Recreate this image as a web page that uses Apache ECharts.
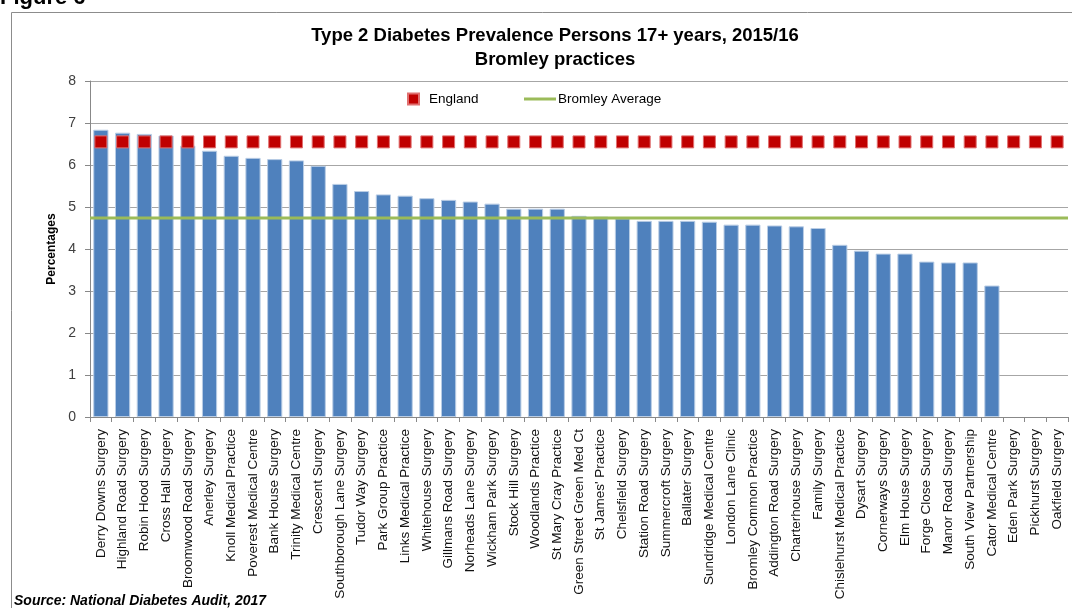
<!DOCTYPE html>
<html>
<head>
<meta charset="utf-8">
<script src="https://cdn.jsdelivr.net/npm/echarts@6/dist/echarts.min.js"></script>
<style>
html,body{margin:0;padding:0;background:#fff;}
#chart{width:1072px;height:608px;}
</style>
</head>
<body>
<div id="chart"></div>
<script>
const categories = [
  "Derry Downs Surgery","Highland Road Surgery","Robin Hood Surgery","Cross Hall Surgery",
  "Broomwood Road Surgery","Anerley Surgery","Knoll Medical Practice","Poverest Medical Centre",
  "Bank House Surgery","Trinity Medical Centre","Crescent Surgery","Southborough Lane Surgery",
  "Tudor Way Surgery","Park Group Practice","Links Medical Practice","Whitehouse Surgery",
  "Gillmans Road Surgery","Norheads Lane Surgery","Wickham Park Surgery","Stock Hill Surgery",
  "Woodlands Practice","St Mary Cray Practice","Green Street Green Med Ct","St James' Practice",
  "Chelsfield Surgery","Station Road Surgery","Summercroft Surgery","Ballater Surgery",
  "Sundridge Medical Centre","London Lane Clinic","Bromley Common Practice","Addington Road Surgery",
  "Charterhouse Surgery","Family Surgery","Chislehurst Medical Practice","Dysart Surgery",
  "Cornerways Surgery","Elm House Surgery","Forge Close Surgery","Manor Road Surgery",
  "South View Partnership","Cator Medical Centre","Eden Park Surgery","Pickhurst Surgery","Oakfield Surgery"
];
const practiceValues = [
  6.84, 6.77, 6.74, 6.70, 6.46, 6.34, 6.22, 6.17, 6.14, 6.11,
  5.98, 5.55, 5.38, 5.30, 5.27, 5.21, 5.17, 5.13, 5.08, 4.96,
  4.96, 4.96, 4.79, 4.77, 4.73, 4.67, 4.67, 4.67, 4.65, 4.58,
  4.58, 4.56, 4.54, 4.50, 4.10, 3.96, 3.89, 3.89, 3.70, 3.68,
  3.68, 3.13, null, null, null
];
const englandRate = 6.55;
const bromleyAverage = 4.74;
const yTicks = [0, 1, 2, 3, 4, 5, 6, 7, 8];

const englandData = categories.map(() => englandRate);
const bromleyData = categories.map(() => bromleyAverage);

const chart = echarts.init(document.getElementById('chart'));
const font = 'Liberation Sans, Arial, sans-serif';
chart.setOption({
  animation: false,
  backgroundColor: '#ffffff',
  textStyle: { fontFamily: font },
  graphic: [
    { type: 'rect', shape: { x: 11.5, y: 12.5, width: 1100, height: 640 },
      style: { fill: 'none', stroke: '#8c8c8c', lineWidth: 1 }, z: -1 },
    { type: 'text', x: 0, y: -13,
      style: { text: 'Figure 6', font: 'bold 22px ' + font, fill: '#000' } },
    { type: 'text', x: 555, y: 26,
      style: { text: 'Type 2 Diabetes Prevalence Persons 17+ years, 2015/16', font: 'bold 18.5px ' + font,
               fill: '#000', textAlign: 'center' } },
    { type: 'text', x: 555, y: 50,
      style: { text: 'Bromley practices', font: 'bold 18.5px ' + font, fill: '#000', textAlign: 'center' } },
    { type: 'text', x: 14, y: 594,
      style: { text: 'Source: National Diabetes Audit, 2017', font: 'italic bold 14px ' + font, fill: '#000' } }
  ],
  legend: [
    { data: ['England'], left: 402, top: 87, itemWidth: 11, itemHeight: 11,
      textStyle: { fontSize: 13.5, color: '#000', padding: [0, 0, 0, 5] } },
    { data: [{ name: 'Bromley Average', icon: 'rect' }], left: 519, top: 87, itemWidth: 32, itemHeight: 3,
      textStyle: { fontSize: 13.5, color: '#000', padding: [0, 0, 0, -3] } }
  ],
  grid: { left: 90, right: 4, top: 81, bottom: 191, containLabel: false },
  xAxis: [{
    type: 'category',
    data: categories,
    boundaryGap: true,
    axisLine: { lineStyle: { color: '#888', width: 1 } },
    axisTick: { show: true, length: 5, lineStyle: { color: '#888' } },
    axisLabel: { interval: 0, rotate: 90, fontSize: 13.5, color: '#111', margin: 12, fontFamily: font }
  }, {
    type: 'category',
    data: categories,
    boundaryGap: false,
    show: false
  }],
  yAxis: {
    type: 'value',
    min: yTicks[0], max: yTicks[yTicks.length - 1], interval: 1,
    name: 'Percentages', nameLocation: 'middle', nameGap: 28,
    nameTextStyle: { fontWeight: 'bold', fontSize: 12, color: '#000', fontFamily: font },
    axisLine: { show: true, lineStyle: { color: '#888' } },
    axisTick: { show: true, length: 5, lineStyle: { color: '#888' } },
    axisLabel: { fontSize: 14, color: '#404040', margin: 14 },
    splitLine: { lineStyle: { color: '#a6a6a6', width: 1 } }
  },
  series: [
    { name: 'Practices', type: 'bar', data: practiceValues, barWidth: '70%',
      itemStyle: { color: '#4f81bd', borderColor: '#b9cde5', borderWidth: 1 }, z: 2 },
    { name: 'England', type: 'scatter', data: englandData, symbol: 'rect', symbolSize: 12,
      itemStyle: { color: '#c00000', borderColor: '#e07070', borderWidth: 1, opacity: 1 }, z: 4 },
    { name: 'Bromley Average', type: 'line', xAxisIndex: 1, data: bromleyData, symbol: 'none',
      lineStyle: { color: '#9bbb59', width: 3 }, itemStyle: { color: '#9bbb59' }, z: 3 }
  ]
});
</script>
</body>
</html>
